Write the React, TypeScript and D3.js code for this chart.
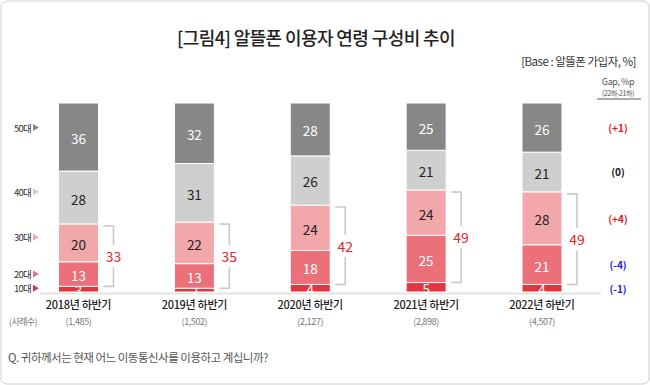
import React from 'react';
import * as d3 from 'd3';

const years = ['2018년 하반기', '2019년 하반기', '2020년 하반기', '2021년 하반기', '2022년 하반기'];
const samples = ['(1,485)', '(1,502)', '(2,127)', '(2,898)', '(4,507)'];
const ages = ['10대', '20대', '30대', '40대', '50대'];
const s10 = [3, 2, 4, 5, 4];
const s20 = [13, 13, 18, 25, 21];
const s30 = [20, 22, 24, 24, 28];
const s40 = [28, 31, 26, 21, 21];
const s50 = [36, 32, 28, 25, 26];
const gaps = [-1, -4, 4, 0, 1];
// where the age labels on the left sit, in % units
const ageTicks = [2, 9.5, 29, 53, 87];

const colors = ['#e3343f', '#eb7079', '#f2a7ab', '#d0cfd0', '#878787'];
const textColors = ['#fff', '#fff', '#222', '#222', '#fff'];
const FONT = '"Noto Sans CJK KR", "Noto Sans", sans-serif';

export default function App() {
  const W = 650, H = 385;
  const rows = years.map((y, i) => ({
    year: y, '10대': s10[i], '20대': s20[i], '30대': s30[i], '40대': s40[i], '50대': s50[i],
  }));
  const series = d3.stack<any>().keys(ages)(rows);

  const x = d3.scalePoint<string>().domain(years).range([78.5, 542]);
  const y = d3.scaleLinear().domain([0, 100]).range([292, 103]);
  const bw = 40;
  const last = years.length - 1;

  const gapText = (g: number) => (g > 0 ? `(+${g})` : `(${g})`);
  const gapColor = (g: number) => (g > 0 ? '#e8141c' : g < 0 ? '#1a1aee' : '#111');

  return (
    <svg width={W} height={H} style={{ position: 'absolute', left: 0, top: 0 }} fontFamily={FONT}>
      <rect x={1} y={1} width={W - 2} height={H - 2} rx={6} fill="#fff" stroke="#cfcfcf" />

      <text x={316} y={45} textAnchor="middle" fontSize={18} fontWeight={500} fill="#222" letterSpacing={-0.6}>
        [그림4] 알뜰폰 이용자 연령 구성비 추이
      </text>
      <text x={636} y={66} textAnchor="end" fontSize={11.5} fill="#333" letterSpacing={-0.5}>
        [Base : 알뜰폰 가입자, %]
      </text>

      {/* gap header */}
      <text x={618} y={85} textAnchor="middle" fontSize={9} fill="#555" letterSpacing={-0.4}>Gap, %p</text>
      <text x={618} y={95.5} textAnchor="middle" fontSize={7} fill="#555" letterSpacing={-0.4}>(22하-21하)</text>
      <line x1={597} x2={641} y1={99} y2={99} stroke="#aaa" strokeWidth={2} />

      {/* baseline */}
      <line x1={40} x2={601} y1={293.5} y2={293.5} stroke="#e2e2e2" strokeWidth={2} />

      {/* age labels */}
      {ages.map((a, i) => {
        const yy = y(ageTicks[i]);
        return (
          <g key={a}>
            <text x={31} y={yy} textAnchor="end" dominantBaseline="central" fontSize={9.5} fill="#333" letterSpacing={-0.8}>{a}</text>
            <path d={`M33,${yy - 3.5}L39,${yy}L33,${yy + 3.5}Z`} fill={colors[i]} />
          </g>
        );
      })}

      {/* bars */}
      {series.map((s, k) => (
        <g key={s.key}>
          {s.map((d, i) => {
            const cx = x(years[i])!;
            const y0 = y(d[0]), y1 = y(d[1]);
            return (
              <g key={i}>
                <rect x={cx - bw / 2} y={y1} width={bw} height={y0 - y1} fill={colors[k]} stroke="#fff" strokeWidth={1} />
                <text x={cx} y={(y0 + y1) / 2 + 1} textAnchor="middle" dominantBaseline="central" fontSize={13.5} fill={textColors[k]}>
                  {d[1] - d[0]}
                </text>
              </g>
            );
          })}
        </g>
      ))}

      {/* brackets for 20s+30s */}
      {years.map((yr, i) => {
        const cx = x(yr)!;
        const top = y(s10[i] + s20[i] + s30[i]) + 2;
        const bot = y(s10[i]);
        const mid = (top + bot) / 2;
        const lx = cx + 35;
        return (
          <g key={yr}>
            <path d={`M${cx + 25},${top}H${lx}V${mid - 11}M${lx},${mid + 11}V${bot}H${cx + 25}`} fill="none" stroke="#c8c8c8" strokeWidth={1.6} />
            <text x={lx} y={mid} textAnchor="middle" dominantBaseline="central" fontSize={14} fill="#e3242b">
              {s20[i] + s30[i]}
            </text>
          </g>
        );
      })}

      {/* gap column at last year's segment centres */}
      {series.map((s, k) => {
        const d = s[last];
        return (
          <text key={s.key} x={618} y={(y(d[0]) + y(d[1])) / 2} textAnchor="middle" dominantBaseline="central" fontSize={10} fontWeight={700} fill={gapColor(gaps[k])}>
            {gapText(gaps[k])}
          </text>
        );
      })}

      {/* x labels */}
      {years.map((yr, i) => (
        <g key={yr}>
          <text x={x(yr)!} y={309} textAnchor="middle" fontSize={11} fontWeight={500} fill="#222" letterSpacing={-0.3}>{yr}</text>
          <text x={x(yr)!} y={325} textAnchor="middle" fontSize={9} fill="#777" letterSpacing={-0.4}>{samples[i]}</text>
        </g>
      ))}
      <text x={23} y={325} textAnchor="middle" fontSize={9} fill="#777" letterSpacing={-0.6}>(사례수)</text>

      <text x={8} y={362} fontSize={11.5} fill="#555" letterSpacing={-0.5}>
        Q. 귀하께서는 현재 어느 이동통신사를 이용하고 계십니까?
      </text>
    </svg>
  );
}
